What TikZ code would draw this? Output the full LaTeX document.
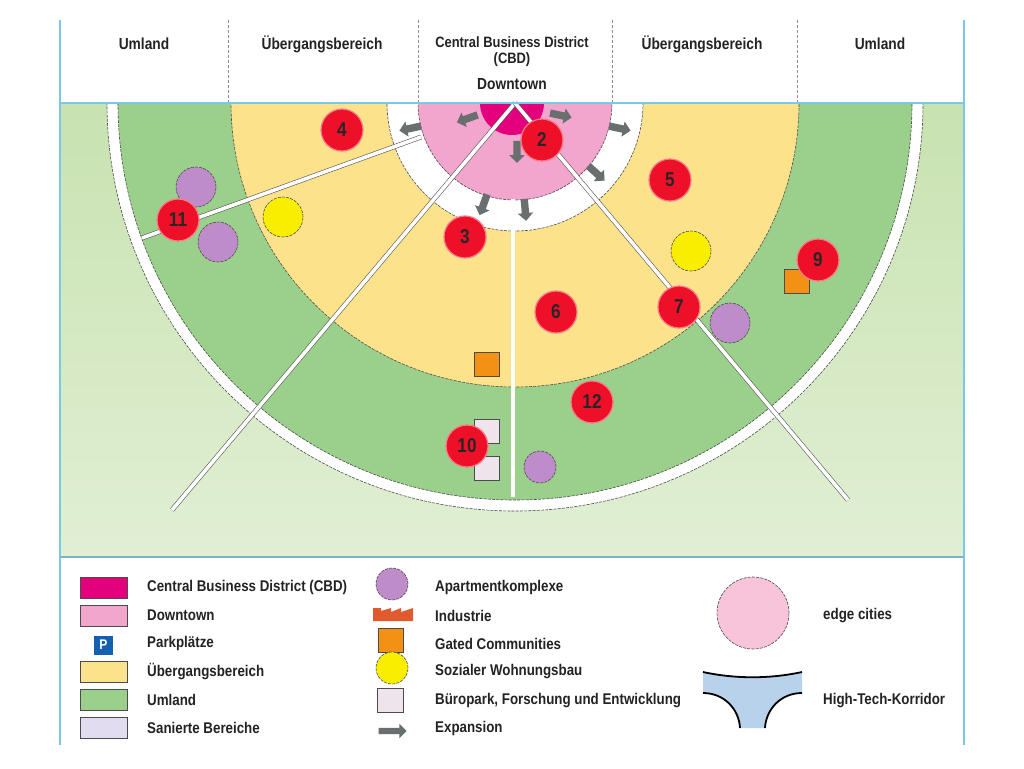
\documentclass[tikz,border=0pt]{standalone}
\usepackage{fontspec}
\setmainfont{Liberation Sans}[FakeStretch=0.86]
\usetikzlibrary{shapes.arrows}
\definecolor{cbd}{RGB}{228,0,125}
\definecolor{down}{RGB}{242,165,205}
\definecolor{trans}{RGB}{253,226,140}
\definecolor{uml}{RGB}{155,208,140}
\definecolor{umlout}{RGB}{200,226,176}
\definecolor{frameblue}{RGB}{120,200,230}
\definecolor{mred}{RGB}{238,16,40}
\definecolor{apt}{RGB}{190,140,200}
\definecolor{gated}{RGB}{242,145,20}
\definecolor{social}{RGB}{250,238,0}
\definecolor{office}{RGB}{240,228,236}
\definecolor{expgray}{RGB}{105,110,110}
\definecolor{txt}{RGB}{35,35,35}
\definecolor{sanier}{RGB}{226,220,240}
\definecolor{htk}{RGB}{185,210,235}
\definecolor{indus}{RGB}{225,90,45}
\definecolor{edgepink}{RGB}{247,196,218}
\definecolor{pblue}{RGB}{20,95,175}
\tikzset{
  outl/.style={draw=black!70, line width=0.6pt, dash pattern=on 3pt off 1.2pt},
  road/.style={draw=black!65, line width=0.6pt, double=white, double distance=3.6pt},
  numdot/.style={circle, fill=mred, draw=mred!55!white, line width=1.2pt, minimum size=42pt, inner sep=0pt,
    font=\bfseries\fontsize{20}{20}\selectfont, text=black!85},
  aptc/.style={circle, fill=apt, outl, minimum size=40pt, inner sep=0pt},
  socialc/.style={circle, fill=social, outl, minimum size=40pt, inner sep=0pt},
  gatedsq/.style={rectangle, fill=gated, draw=black!70, line width=0.6pt, minimum width=25pt, minimum height=24pt, inner sep=0pt},
  officesq/.style={rectangle, fill=office, draw=black!70, line width=0.6pt, minimum width=25pt, minimum height=24pt, inner sep=0pt},
  exparrow/.style={single arrow, fill=expgray, minimum height=22pt, inner sep=3.5pt, single arrow head extend=4pt},
  head/.style={font=\bfseries\fontsize{16}{13}\selectfont, text=txt, align=center, inner sep=0pt},
  legtxt/.style={font=\bfseries\fontsize{15.5}{15}\selectfont, text=txt, anchor=west, inner sep=0pt},
  swatch/.style={rectangle, draw=black!70, line width=0.6pt, minimum width=47pt, minimum height=21pt, inner sep=0pt},
  frameline/.style={draw=frameblue, line width=1.3pt},
  hdash/.style={draw=black!45, line width=0.8pt, dash pattern=on 3pt off 2pt}
}
\begin{document}
\begin{tikzpicture}[x=1pt,y=-1pt]
\useasboundingbox (0,0) rectangle (1024,768);
\fill[white] (0,0) rectangle (1024,768);
\coordinate (C) at (515,103);
% map background
\shade[top color=umlout, bottom color=umlout!55!white] (60,103) rectangle (964,557);
\begin{scope}
\clip (60,103) rectangle (964,557);
\fill[white] (C) circle (408pt);
\draw[outl] (C) circle (408pt);
\fill[uml] (C) circle (397pt);
\draw[outl] (C) circle (397pt);
\fill[trans] (C) circle (284pt);
\draw[outl] (C) circle (284pt);
\fill[white] (C) circle (128pt);
\draw[outl] (C) circle (128pt);
\fill[down] (C) circle (97pt);
\draw[outl] (C) circle (97pt);
\fill[cbd] (512,103) circle (32pt);
\end{scope}
% roads
\coordinate (rl1) at (421,137);
\coordinate (rl2) at (142,238);
\coordinate (dl) at (172,510);
\coordinate (dr) at (848,500);
\coordinate (v1) at (513,199);
\coordinate (v2) at (513,497);
\draw[road] (rl1) -- (rl2);
\draw[road] (C) -- (dl);
\draw[road] (C) -- (dr);
\draw[road] (v1) -- (v2);
% expansion arrows
\node[exparrow, rotate=192] (e1) at (412,128) {};
\node[exparrow, rotate=200] (e2) at (469,118) {};
\node[exparrow, rotate=270] (e3) at (517,150) {};
\node[exparrow, rotate=348] (e4) at (559,115) {};
\node[exparrow, rotate=348] (e5) at (618,128) {};
\node[exparrow, rotate=318] (e6) at (595,172) {};
\node[exparrow, rotate=250] (e7) at (484,203) {};
\node[exparrow, rotate=275] (e8) at (525,208) {};
% symbols
\node[aptc] (a1) at (196,187) {};
\node[aptc] (a2) at (218,242) {};
\node[aptc] (a3) at (730,323) {};
\node[aptc, minimum size=32pt] (a4) at (540,467) {};
\node[socialc] (s1) at (283,217) {};
\node[socialc] (s2) at (691,251) {};
\node[gatedsq] (g1) at (487,364) {};
\node[gatedsq] (g2) at (797,281) {};
\node[officesq] (o1) at (487,431) {};
\node[officesq] (o2) at (487,468) {};
% numbered markers
\node[numdot] (n4) at (342,130) {4};
\node[numdot] (n2) at (542,140) {2};
\node[numdot] (n5) at (670,180) {5};
\node[numdot] (n3) at (465,237) {3};
\node[numdot] (n11) at (178,220) {11};
\node[numdot] (n9) at (818,260) {9};
\node[numdot] (n7) at (679,307) {7};
\node[numdot] (n6) at (556,312) {6};
\node[numdot] (n12) at (592,402) {12};
\node[numdot] (n10) at (467,446) {10};
% header
\draw[hdash] (228,20) -- (228,103);
\draw[hdash] (418,20) -- (418,103);
\draw[hdash] (612,20) -- (612,103);
\draw[hdash] (797,20) -- (797,103);
\node[head] (h1) at (144,44) {Umland};
\node[head] (h2) at (322,44) {Übergangsbereich};
\node[head, font=\bfseries\fontsize{15}{13}\selectfont] (h3) at (512,42) {Central Business District};
\node[head, font=\bfseries\fontsize{15}{13}\selectfont] (h3b) at (512,60) {(CBD)};
\node[head] (h4) at (512,84) {Downtown};
\node[head] (h5) at (702,44) {Übergangsbereich};
\node[head] (h6) at (880,44) {Umland};
% frame
\draw[frameline] (60,20) -- (60,745);
\draw[frameline] (964,20) -- (964,745);
\draw[frameline] (60,103) -- (964,103);
\draw[draw=frameblue!70!gray, line width=1.6pt] (60,557) -- (964,557);
% legend left
\node[swatch, fill=cbd] (l1) at (103.5,588) {};
\node[swatch, fill=down] (l2) at (103.5,616) {};
\node[rectangle, fill=pblue, minimum size=19pt, inner sep=0pt, text=white, font=\bfseries\fontsize{14}{14}\selectfont] (l3) at (103.5,645) {P};
\node[swatch, fill=trans] (l4) at (103.5,672) {};
\node[swatch, fill=uml] (l5) at (103.5,700) {};
\node[swatch, fill=sanier] (l6) at (103.5,728) {};
\node[legtxt] (t1) at (147,587) {Central Business District (CBD)};
\node[legtxt] (t2) at (147,615) {Downtown};
\node[legtxt] (t3) at (147,643) {Parkplätze};
\node[legtxt] (t4) at (147,672) {Übergangsbereich};
\node[legtxt] (t5) at (147,700) {Umland};
\node[legtxt] (t6) at (147,728) {Sanierte Bereiche};
% legend middle
\node[aptc, minimum size=32pt] (k1) at (392,584) {};
\fill[indus] (373,621) -- (373,608) -- (381,608) -- (381,611) -- (391,608) -- (391,612) -- (401,608) -- (401,612) -- (413,608) -- (413,621) -- cycle;
\node[gatedsq] (k3) at (391,640) {};
\node[socialc, minimum size=32pt] (k4) at (392,668) {};
\node[officesq, minimum width=26pt] (k5) at (390,700) {};
\node[exparrow, minimum height=28pt, inner sep=3pt] (k6) at (391,731) {};
\node[legtxt] (u1) at (435,587) {Apartmentkomplexe};
\node[legtxt] (u2) at (435,616) {Industrie};
\node[legtxt] (u3) at (435,644) {Gated Communities};
\node[legtxt] (u4) at (435,672) {Sozialer Wohnungsbau};
\node[legtxt] (u5) at (435,701) {Büropark, Forschung und Entwicklung};
\node[legtxt] (u6) at (435,728) {Expansion};
% legend right
\node[circle, fill=edgepink, outl, minimum size=72pt, inner sep=0pt] (r1) at (753,613) {};
\fill[htk] (703,672) .. controls (735,679) and (770,679) .. (802,672) -- (802,693) .. controls (781,693) and (766,709) .. (765,728) -- (740,728) .. controls (739,709) and (724,693) .. (703,693) -- cycle;
\draw[black, line width=1.8pt] (703,672) .. controls (735,679) and (770,679) .. (802,672);
\draw[black, line width=1.8pt] (802,693) .. controls (781,693) and (766,709) .. (765,728);
\draw[black, line width=1.8pt] (703,693) .. controls (724,693) and (739,709) .. (740,728);
\node[legtxt] (v1t) at (823,616) {edge cities};
\node[legtxt] (v2t) at (823,701) {High-Tech-Korridor};
\end{tikzpicture}
\end{document}
